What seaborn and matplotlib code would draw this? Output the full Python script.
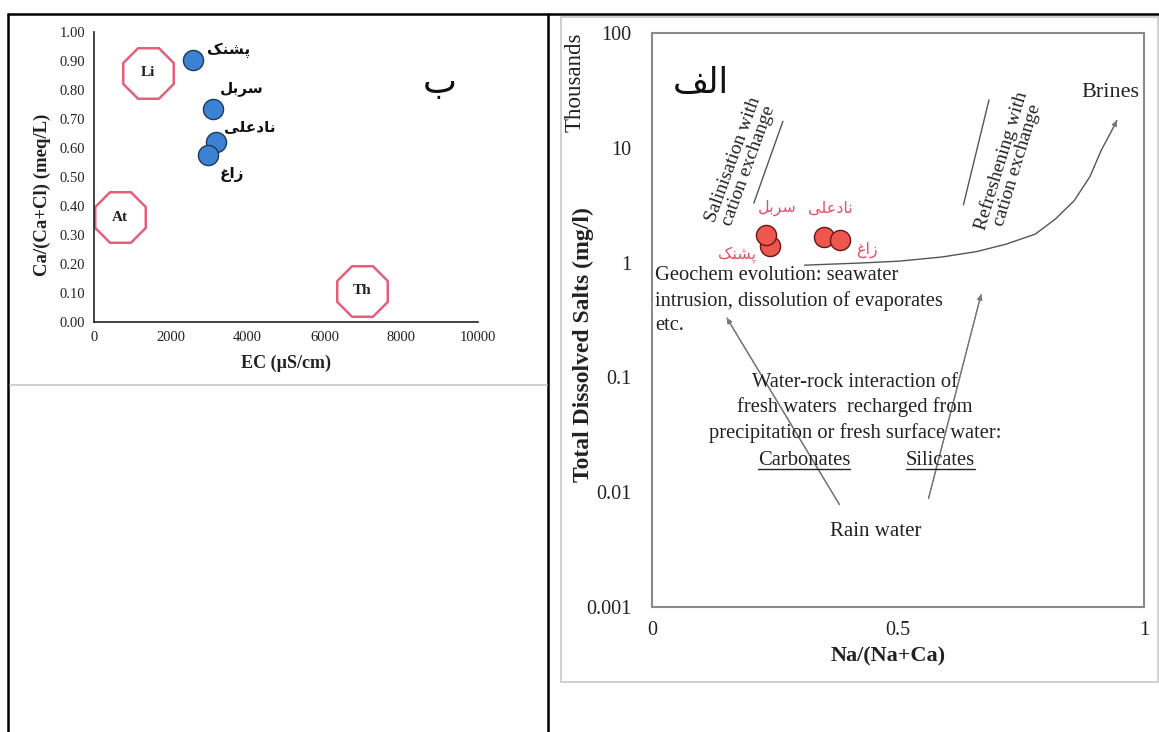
import numpy as np
import pandas as pd
import matplotlib
matplotlib.use("Agg")
import matplotlib.pyplot as plt
import seaborn as sns
from matplotlib.lines import Line2D
from matplotlib.patches import Rectangle

# ---------------- data ----------------
stations = ["پشنک", "سربل", "نادعلی", "زاغ"]
# visual (pre-shaped, right-to-left) forms of the station names for matplotlib
shaped = {
    "پشنک": "\uFB8F\uFEE8\uFEB8\uFB58",
    "سربل": "\uFEDE\uFE91\uFEAE\uFEB3",
    "نادعلی": "\uFBFD\uFEE0\uFECB\uFEA9\uFE8E\uFEE7",
    "زاغ": "\uFECD\uFE8D\uFEAF",
    "ب": "\uFE8F",
    "الف": "\uFED2\uFEDF\uFE8D",
}

# panel ب : Ca/(Ca+Cl) vs EC
ec_values = [2580, 3110, 3180, 2980]
ca_ratio = [0.905, 0.734, 0.620, 0.576]
zone_names = ["Li", "At", "Th"]
zone_ec = [1414, 677, 6970]
zone_ratio = [0.86, 0.362, 0.107]
ec_ticks = [0, 2000, 4000, 6000, 8000, 10000]
ratio_ticks = [0.0, 0.1, 0.2, 0.3, 0.4, 0.5, 0.6, 0.7, 0.8, 0.9, 1.0]

# panel الف : TDS vs Na/(Na+Ca)  (Gibbs-type diagram)
na_ratio = [0.240, 0.232, 0.349, 0.383]
tds_thousands = [1.40, 1.75, 1.66, 1.57]
na_ticks = [0, 0.5, 1]
na_tick_labels = ["0", "0.5", "1"]
tds_ticks = [0.001, 0.01, 0.1, 1, 10, 100]
tds_tick_labels = ["0.001", "0.01", "0.1", "1", "10", "100"]

brine_x = [0.310, 0.420, 0.503, 0.590, 0.661, 0.720, 0.779, 0.820, 0.858, 0.890, 0.913, 0.932, 0.945]
brine_y = [0.95, 0.99, 1.03, 1.12, 1.25, 1.45, 1.77, 2.40, 3.46, 5.60, 9.5, 13.5, 17.3]
salin_x = [0.207, 0.266]
salin_y = [3.30, 17.0]
refresh_x = [0.633, 0.685]
refresh_y = [3.19, 26.2]
carb_arrow_x = [0.381, 0.152]
carb_arrow_y = [0.0078, 0.33]
sil_arrow_x = [0.562, 0.669]
sil_arrow_y = [0.0088, 0.53]

# ---------------- style ----------------
sns.set_style("white")
plt.rcParams["font.family"] = ["Liberation Serif", "DejaVu Sans"]

W, H = 1159, 732
fig = plt.figure(figsize=(W / 100, H / 100), dpi=100)
fig.patch.set_facecolor("white")


def fx(px):
    return px / W


def fy(py):
    return 1 - py / H


def fline(x0, y0, x1, y1, color="black", lw=1.6):
    fig.add_artist(Line2D([fx(x0), fx(x1)], [fy(y0), fy(y1)], transform=fig.transFigure,
                          color=color, lw=lw))


# outer table frame
fline(8, 14, 1159, 14, lw=1.8)
fline(8, 14, 8, 732, lw=1.8)
fline(548, 14, 548, 732, lw=1.8)
# chart area boxes
fline(10, 385, 547, 385, color="#c8c8c8", lw=1.2)
fig.add_artist(Rectangle((fx(561), fy(682)), fx(1158) - fx(561), fy(17) - fy(682),
                         transform=fig.transFigure, fill=False, edgecolor="#c8c8c8", lw=1.2))

# ---------------- left panel (ب) ----------------
ax1 = fig.add_axes([fx(94), fy(322), fx(478) - fx(94), fy(32) - fy(322)])
ax1.set_facecolor("none")
df_z = pd.DataFrame({"EC": zone_ec, "ratio": zone_ratio, "zone": zone_names})
sns.scatterplot(data=df_z, x="EC", y="ratio", marker="8", s=1550, color="white",
                edgecolor="#E2607C", linewidth=1.8, ax=ax1, zorder=2, clip_on=False, legend=False)
for n, xv, yv in zip(zone_names, zone_ec, zone_ratio):
    ax1.text(xv, yv, n, ha="center", va="center", fontsize=11, fontweight="bold",
             color="#222222", zorder=3)

df_l = pd.DataFrame({"EC": ec_values, "ratio": ca_ratio, "station": stations})
sns.scatterplot(data=df_l, x="EC", y="ratio", s=210, color="#3C82D2", edgecolor="#1E3A5F",
                linewidth=1.0, ax=ax1, zorder=4, legend=False)
left_label_pos = {"پشنک": (3500, 0.938), "سربل": (3850, 0.806),
                  "نادعلی": (4060, 0.673), "زاغ": (3590, 0.507)}
for s in stations:
    xv, yv = left_label_pos[s]
    ax1.text(xv, yv, shaped[s], ha="center", va="center", fontsize=11, fontweight="bold",
             family="DejaVu Sans", color="#111111")
ax1.text(9010, 0.823, shaped["ب"], ha="center", va="center", fontsize=26,
         family="DejaVu Sans", color="#111111")

ax1.set_xlim(0, 10000)
ax1.set_ylim(0, 1)
ax1.set_xticks(ec_ticks)
ax1.set_xticklabels([str(t) for t in ec_ticks])
ax1.set_yticks(ratio_ticks)
ax1.set_yticklabels([f"{t:.2f}" for t in ratio_ticks])
for sp in ["top", "right"]:
    ax1.spines[sp].set_visible(False)
for sp in ["left", "bottom"]:
    ax1.spines[sp].set_color("#222222")
    ax1.spines[sp].set_linewidth(1.2)
ax1.tick_params(axis="both", direction="inout", length=7, width=1, colors="#222222",
                labelsize=10.5, pad=3)
ax1.set_xlabel("EC (µS/cm)", fontsize=13, fontweight="bold", color="#222222")
ax1.set_ylabel("Ca/(Ca+Cl) (meq/L)", fontsize=13.5, fontweight="bold", color="#222222")
ax1.xaxis.set_label_coords(0.5, -0.112)
ax1.yaxis.set_label_coords(-0.112, 0.438)

# ---------------- right panel (الف) ----------------
ax2 = fig.add_axes([fx(652), fy(607), fx(1144) - fx(652), fy(33) - fy(607)])
ax2.set_facecolor("none")
ax2.set_yscale("log")
ax2.set_xlim(0, 1)
ax2.set_ylim(0.001, 100)

line_col = "#555555"
sns.lineplot(x=brine_x, y=brine_y, sort=False, color=line_col, lw=1.0, ax=ax2, estimator=None)
sns.lineplot(x=salin_x, y=salin_y, sort=False, color=line_col, lw=1.0, ax=ax2, estimator=None)
sns.lineplot(x=refresh_x, y=refresh_y, sort=False, color=line_col, lw=1.0, ax=ax2, estimator=None)
sns.lineplot(x=carb_arrow_x, y=carb_arrow_y, sort=False, color="#777777", lw=0.9, ax=ax2, estimator=None)
sns.lineplot(x=sil_arrow_x, y=sil_arrow_y, sort=False, color="#777777", lw=0.9, ax=ax2, estimator=None)
for xs, ys in [(brine_x, brine_y), (carb_arrow_x, carb_arrow_y), (sil_arrow_x, sil_arrow_y)]:
    ax2.annotate("", xy=(xs[-1], ys[-1]), xytext=(xs[-2], ys[-2]),
                 arrowprops=dict(arrowstyle="-|>", color="#777777", lw=0.9,
                                 mutation_scale=8, shrinkA=0, shrinkB=0))

df_r = pd.DataFrame({"na": na_ratio, "tds": tds_thousands, "station": stations})
sns.scatterplot(data=df_r, x="na", y="tds", s=210, color="#EE5650", edgecolor="#6B1515",
                linewidth=1.0, ax=ax2, zorder=5, legend=False)
right_label_pos = {"پشنک": (0.172, 1.17), "سربل": (0.254, 3.0),
                   "نادعلی": (0.362, 3.0), "زاغ": (0.436, 1.29)}
for s in stations:
    xv, yv = right_label_pos[s]
    ax2.text(xv, yv, shaped[s], ha="center", va="center", fontsize=11.5,
             family="DejaVu Sans", color="#E8506A", zorder=6)

txt_col = "#222222"
ax2.text(0.10, 36.9, shaped["الف"], ha="center", va="center", fontsize=25,
         family="DejaVu Sans", color="#111111")
ax2.text(0.181, 7.4, "Salinisation with\ncation exchange", rotation=70, ha="center",
         va="center", multialignment="center", fontsize=14, color=txt_col, linespacing=1.0)
ax2.text(0.726, 7.4, "Refreshening with\ncation exchange", rotation=73, ha="center",
         va="center", multialignment="center", fontsize=14, color=txt_col, linespacing=1.0)
ax2.text(0.931, 30.2, "Brines", ha="center", va="center", fontsize=16, color=txt_col)
ax2.text(0.007, 0.93, "Geochem evolution: seawater\nintrusion, dissolution of evaporates\netc.",
         ha="left", va="top", fontsize=14.8, color=txt_col, linespacing=1.38)
ax2.text(0.412, 0.110, "Water-rock interaction of\nfresh waters  recharged from\n"
         "precipitation or fresh surface water:", ha="center", va="top",
         multialignment="center", fontsize=14.8, color=txt_col, linespacing=1.38)
t_carb = ax2.text(0.309, 0.0188, "Carbonates", ha="center", va="center", fontsize=14.8,
                  color=txt_col)
t_sil = ax2.text(0.586, 0.0188, "Silicates", ha="center", va="center", fontsize=14.8,
                 color=txt_col)
ax2.text(0.455, 0.00454, "Rain water", ha="center", va="center", fontsize=15, color=txt_col)

ax2.set_xticks(na_ticks)
ax2.set_xticklabels(na_tick_labels)
ax2.set_xticks(np.linspace(0, 1, 11), minor=True)
ax2.set_yticks(tds_ticks)
ax2.set_yticklabels(tds_tick_labels)
ax2.yaxis.set_minor_locator(matplotlib.ticker.NullLocator())
for sp in ax2.spines.values():
    sp.set_color("#8a8a8a")
    sp.set_linewidth(1.5)
ax2.tick_params(axis="both", which="both", direction="in", length=4, width=1,
                colors="#8a8a8a", labelcolor="#222222", labelsize=14.5)
ax2.tick_params(axis="x", which="major", pad=10)
ax2.tick_params(axis="y", which="major", pad=15)
ax2.set_xlabel("Na/(Na+Ca)", fontsize=16, fontweight="bold", color="#222222")
ax2.set_ylabel("Total Dissolved Salts (mg/l)", fontsize=17, fontweight="bold", color="#222222")
ax2.xaxis.set_label_coords(0.48, -0.068)
ax2.yaxis.set_label_coords(-0.118, 0.457)
ax2.text(-0.157, 0.915, "Thousands", rotation=90, ha="center", va="center",
         transform=ax2.transAxes, fontsize=16.5, color="#222222")

# underline Carbonates / Silicates
fig.canvas.draw()
rend = fig.canvas.get_renderer()
for t in (t_carb, t_sil):
    bb = t.get_window_extent(rend)
    fig.add_artist(Line2D([bb.x0 / W, bb.x1 / W], [(bb.y0 + 1) / H, (bb.y0 + 1) / H],
                          transform=fig.transFigure, color=txt_col, lw=1.0))

fig.savefig("out.png", dpi=100, facecolor="white")
